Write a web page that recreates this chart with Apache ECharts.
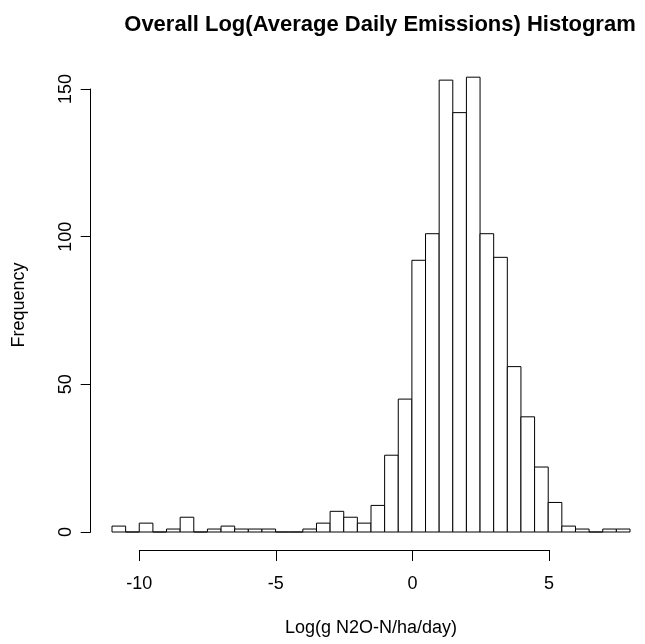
<!DOCTYPE html>
<html>
<head>
<meta charset="utf-8">
<script src="https://cdn.jsdelivr.net/npm/echarts@6/dist/echarts.min.js"></script>
<style>
html,body{margin:0;padding:0;background:#fff;}
#chart{width:645px;height:644px;}
</style>
</head>
<body>
<div id="chart"></div>
<script>
// Histogram bins (left and right edges) and counts
const binStart = [-11,-10.5,-10,-9.5,-9,-8.5,-8,-7.5,-7,-6.5,-6,-5.5,-5,-4.5,-4,-3.5,-3,-2.5,-2,-1.5,-1,-0.5,0,0.5,1,1.5,2,2.5,3,3.5,4,4.5,5,5.5,6,6.5,7,7.5];
const binEnd   = [-10.5,-10,-9.5,-9,-8.5,-8,-7.5,-7,-6.5,-6,-5.5,-5,-4.5,-4,-3.5,-3,-2.5,-2,-1.5,-1,-0.5,0,0.5,1,1.5,2,2.5,3,3.5,4,4.5,5,5.5,6,6.5,7,7.5,8];
const counts   = [2,0,3,0,1,5,0,1,2,1,1,1,0,0,1,3,7,5,3,9,26,45,92,101,153,142,154,101,93,56,39,22,10,2,1,0,1,1];
const xTicks = [-10,-5,0,5];
const yTicks = [0,50,100,150];

const titleText = 'Overall Log(Average Daily Emissions) Histogram';
const xLabel = 'Log(g N2O-N/ha/day)';
const yLabel = 'Frequency';

const FONT = '"Liberation Sans", Arial, Helvetica, sans-serif';
const chart = echarts.init(document.getElementById('chart'), null, {renderer:'canvas'});

const data = binStart.map((s,i)=>[s, binEnd[i], counts[i]]);

const option = {
  animation:false,
  backgroundColor:'#fff',
  title:{
    text:titleText, left:375, top:9, textAlign:'center',
    textStyle:{fontFamily:FONT, fontWeight:'bold', fontSize:22, color:'#000'}
  },
  grid:[
    {left:112, right:15, top:89, bottom:112, containLabel:false},
    {left:139.3, right:96, top:89, bottom:112, containLabel:false}
  ],
  xAxis:[
    {gridIndex:0, type:'value', min:binStart[0], max:binEnd[binEnd.length-1], show:false},
    {gridIndex:1, type:'value', min:xTicks[0], max:xTicks[xTicks.length-1], interval:5,
     position:'bottom', offset:18,
     axisLine:{show:true, onZero:false, lineStyle:{color:'#000', width:1}},
     axisTick:{show:true, length:11, lineStyle:{color:'#000', width:1}},
     axisLabel:{show:true, margin:25, fontFamily:FONT, fontSize:18, color:'#000',
       formatter:v=> xTicks.includes(v) ? String(v) : ''},
     splitLine:{show:false}}
  ],
  yAxis:[
    {gridIndex:0, type:'value', min:yTicks[0], max:yTicks[yTicks.length-1], interval:50,
     position:'left', offset:21.3,
     axisLine:{show:true, onZero:false, lineStyle:{color:'#000', width:1}},
     axisTick:{show:true, length:10, lineStyle:{color:'#000', width:1}},
     axisLabel:{show:true, rotate:90, margin:16, fontFamily:FONT, fontSize:18, color:'#000',
       formatter:v=> yTicks.includes(v) ? String(v) : ''},
     splitLine:{show:false}},
    {gridIndex:1, type:'value', min:0, max:150, show:false}
  ],
  graphic:[
    {type:'text', x:371, y:628, style:{text:xLabel, fontFamily:FONT, fontSize:18, fill:'#000', align:'center', verticalAlign:'middle'}},
    {type:'text', x:19, y:305, rotation:Math.PI/2, style:{text:yLabel, fontFamily:FONT, fontSize:18, fill:'#000', align:'center', verticalAlign:'middle'}}
  ],
  series:[{
    type:'custom',
    xAxisIndex:0, yAxisIndex:0,
    clip:false,
    data:data,
    encode:{x:[0,1], y:2},
    renderItem:function(params, api){
      const p0 = api.coord([api.value(0), 0]);
      const p1 = api.coord([api.value(1), api.value(2)]);
      return {
        type:'rect',
        shape:{x:p0[0], y:p1[1], width:p1[0]-p0[0], height:p0[1]-p1[1]},
        style:{fill:'#fff', stroke:'#000', lineWidth:1}
      };
    }
  }]
};
chart.setOption(option);
</script>
</body>
</html>
